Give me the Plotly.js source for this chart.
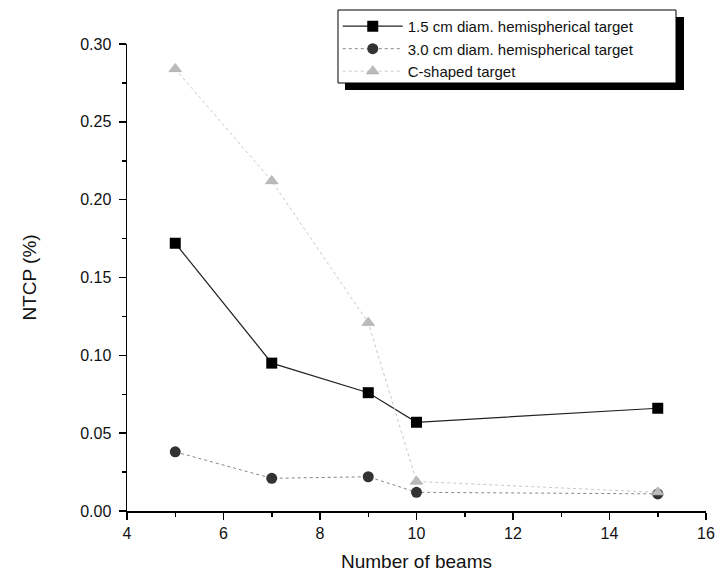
<!DOCTYPE html>
<html><head><meta charset="utf-8">
<script src="https://cdn.plot.ly/plotly-3.0.1.min.js"></script>
<style>body{margin:0;background:#fff}#c{width:716px;height:582px}</style>
</head><body><div id="c"></div>
<script>
const beams = [5, 7, 9, 10, 15];
const hemi15 = [0.172, 0.095, 0.076, 0.057, 0.066];
const hemi30 = [0.038, 0.021, 0.022, 0.012, 0.011];
const cshape = [0.284, 0.212, 0.121, 0.019, 0.012];
const names = ["1.5 cm diam. hemispherical target", "3.0 cm diam. hemispherical target", "C-shaped target"];

const F = "Liberation Sans, Arial, sans-serif";
const traces = [
  {x: beams, y: hemi15, name: names[0], mode: "lines+markers",
   line: {color: "#222", width: 1.2}, marker: {symbol: "square", size: 11, color: "#000"}},
  {x: beams, y: hemi30, name: names[1], mode: "lines+markers",
   line: {color: "#888", width: 1, dash: "dot"}, marker: {symbol: "circle", size: 11, color: "#333"}},
  {x: beams, y: cshape, name: names[2], mode: "lines+markers",
   line: {color: "#c8c8c8", width: 1, dash: "dot"}, marker: {symbol: "triangle-up", size: 11, color: "#bbb", line: {color: "#999", width: 0.5}}}
];
const layout = {
  width: 716, height: 582,
  margin: {l: 127, r: 10, t: 44, b: 71},
  paper_bgcolor: "#fff", plot_bgcolor: "#fff",
  font: {family: F, size: 16, color: "#111"},
  showlegend: true,
  legend: {x: 0.364, y: 1.073, xanchor: "left", yanchor: "top", bgcolor: "rgba(0,0,0,0)",
           borderwidth: 0, font: {size: 15, family: F}, tracegroupgap: 0, itemwidth: 60},
  xaxis: {range: [4, 16], tick0: 4, dtick: 2, ticks: "outside", ticklen: 7, tickwidth: 1.5, tickcolor: "#000",
          showline: true, linecolor: "#000", linewidth: 1.5, showgrid: false, zeroline: false,
          minor: {dtick: 1, ticks: "outside", ticklen: 4, tickcolor: "#000", tickwidth: 1.5},
          title: {text: "Number of beams", font: {size: 19}, standoff: 14}},
  yaxis: {range: [0, 0.30], dtick: 0.05, tickformat: ".2f", ticks: "outside", ticklen: 7, tickwidth: 1.5, tickcolor: "#000",
          showline: true, linecolor: "#000", linewidth: 1.5, showgrid: false, zeroline: false, ticklabelstandoff: 4,
          minor: {dtick: 0.025, ticks: "outside", ticklen: 4, tickcolor: "#000", tickwidth: 1.5},
          title: {text: "NTCP (%)", font: {size: 19}, standoff: 38}},
  shapes: [
    {type: "rect", xref: "paper", yref: "paper", x0: 0.3765, x1: 0.962, y0: 0.9015, y1: 1.0578,
     fillcolor: "#000", line: {width: 0}, layer: "above"},
    {type: "rect", xref: "paper", yref: "paper", x0: 0.3644, x1: 0.9482, y0: 0.9165, y1: 1.0728,
     fillcolor: "#fff", line: {width: 1, color: "#000"}, layer: "above"}
  ]
};
Plotly.newPlot("c", traces, layout, {displayModeBar: false, staticPlot: true});
</script></body></html>
